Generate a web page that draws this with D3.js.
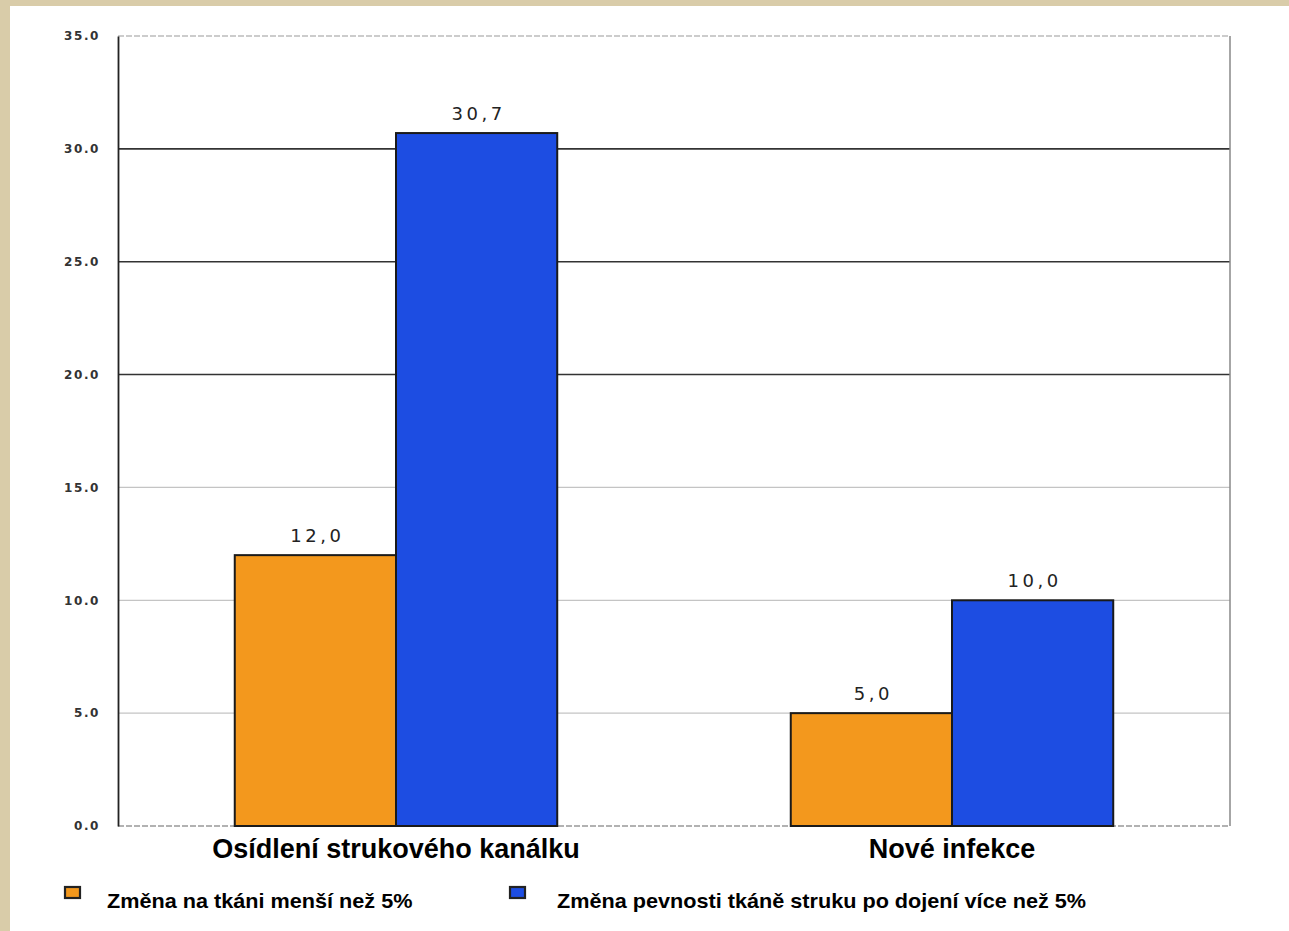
<!DOCTYPE html>
<html><head><meta charset="utf-8">
<script src="https://cdn.jsdelivr.net/npm/d3@7"></script>
<style>html,body{margin:0;padding:0;background:#fff;}svg{display:block;}</style>
</head><body>
<script>
const categories = ["Osídlení strukového kanálku", "Nové infekce"];
const seriesNames = ["Změna na tkáni menší než 5%", "Změna pevnosti tkáně struku po dojení více než 5%"];
const seriesSmall = [12.0, 5.0];
const seriesLarge = [30.7, 10.0];
const yTicks = [0, 5, 10, 15, 20, 25, 30, 35];
const colors = ["#F3981D", "#1D4DE2"];

(function () {
const W = 1289, H = 931;
const svg = d3.select("body").append("svg").attr("width", W).attr("height", H);

// textured frame (left and top)
svg.append("rect").attr("x",0).attr("y",0).attr("width",W).attr("height",H).attr("fill","#D9CCA9");
svg.append("rect").attr("x",10).attr("y",6).attr("width",W-10).attr("height",H-6).attr("fill","#fff");

const pLeft = 118, pRight = 1230, pTop = 36, pBottom = 826;
const y = d3.scaleLinear().domain([0, 35]).range([pBottom, pTop]);
const x0 = d3.scaleBand().domain(categories).range([pLeft, pRight]).paddingInner(0.42).paddingOuter(0.21);
const x1 = d3.scaleBand().domain([0, 1]).range([0, x0.bandwidth()]);

const data = categories.map((c, i) => ({cat: c, vals: [seriesSmall[i], seriesLarge[i]]}));

// gridlines
const dark = new Set([20, 25, 30]);
svg.append("g").selectAll("line").data(yTicks.filter(t => t > 0)).join("line")
  .attr("x1", pLeft).attr("x2", pRight)
  .attr("y1", d => y(d)).attr("y2", d => y(d))
  .attr("stroke", d => d === 35 ? "#999" : (dark.has(d) ? "#333" : "#c4c4c4"))
  .attr("stroke-width", d => dark.has(d) ? 1.6 : 1.2)
  .attr("stroke-dasharray", d => d === 35 ? "6,2" : null);

// right border and bottom dashed baseline
svg.append("line").attr("x1", pRight).attr("x2", pRight).attr("y1", y(35)).attr("y2", y(0))
  .attr("stroke", "#888").attr("stroke-width", 1.5);
svg.append("line").attr("x1", pLeft).attr("x2", pRight).attr("y1", y(0)).attr("y2", y(0))
  .attr("stroke", "#999").attr("stroke-width", 1.3).attr("stroke-dasharray", "6,2");

// y axis
const yAxis = d3.axisLeft(y).tickValues(yTicks).tickFormat(d3.format(".1f")).tickSize(0).tickPadding(18);
const ga = svg.append("g").attr("transform", `translate(${pLeft},0)`).call(yAxis);
ga.select(".domain").attr("stroke", "#222").attr("stroke-width", 1.8);
ga.selectAll("text").attr("font-family", "DejaVu Sans").attr("font-size", 12)
  .attr("fill", "#333").attr("letter-spacing", "1.6px").attr("font-weight", "bold");

// bars
const groups = svg.append("g").selectAll("g").data(data).join("g")
  .attr("transform", d => `translate(${x0(d.cat)},0)`);
groups.selectAll("rect").data(d => d.vals.map((v, k) => ({v, k}))).join("rect")
  .attr("x", d => x1(d.k)).attr("width", x1.bandwidth())
  .attr("y", d => y(d.v)).attr("height", d => y(0) - y(d.v))
  .attr("fill", d => colors[d.k]).attr("stroke", "#1a1a1a").attr("stroke-width", 2);
groups.selectAll("text.val").data(d => d.vals.map((v, k) => ({v, k}))).join("text")
  .attr("class", "val")
  .attr("x", d => x1(d.k) + x1.bandwidth() / 2 + 2).attr("y", d => y(d.v) - 13)
  .attr("text-anchor", "middle").attr("font-family", "DejaVu Sans").attr("font-size", 18)
  .attr("letter-spacing", "3.5px").attr("fill", "#222")
  .text(d => d3.format(".1f")(d.v).replace(".", ","));

// category labels
const xAxis = d3.axisBottom(x0).tickSize(0).tickPadding(0);
const gx = svg.append("g").attr("transform", `translate(0,${pBottom})`).call(xAxis);
gx.select(".domain").remove();
gx.selectAll("text").attr("dy", null).attr("y", 32).attr("font-family", "Liberation Sans, Arial")
  .attr("font-weight", "bold").attr("font-size", 27).attr("fill", "#000");

// legend
const legX = [65, 510], legTextX = [107, 557];
const leg = svg.append("g").selectAll("g").data(seriesNames).join("g");
leg.append("rect").attr("x", (d, i) => legX[i]).attr("y", 887).attr("width", 15).attr("height", 11)
  .attr("fill", (d, i) => colors[i]).attr("stroke", "#222").attr("stroke-width", 2.2);
leg.append("text").attr("transform", (d, i) => `translate(${legTextX[i]},908) scale(1.11,1)`)
  .attr("font-family", "Liberation Sans, Arial").attr("font-weight", "bold").attr("font-size", 19.5)
  .attr("fill", "#000").text(d => d);
})();
</script>
</body></html>
